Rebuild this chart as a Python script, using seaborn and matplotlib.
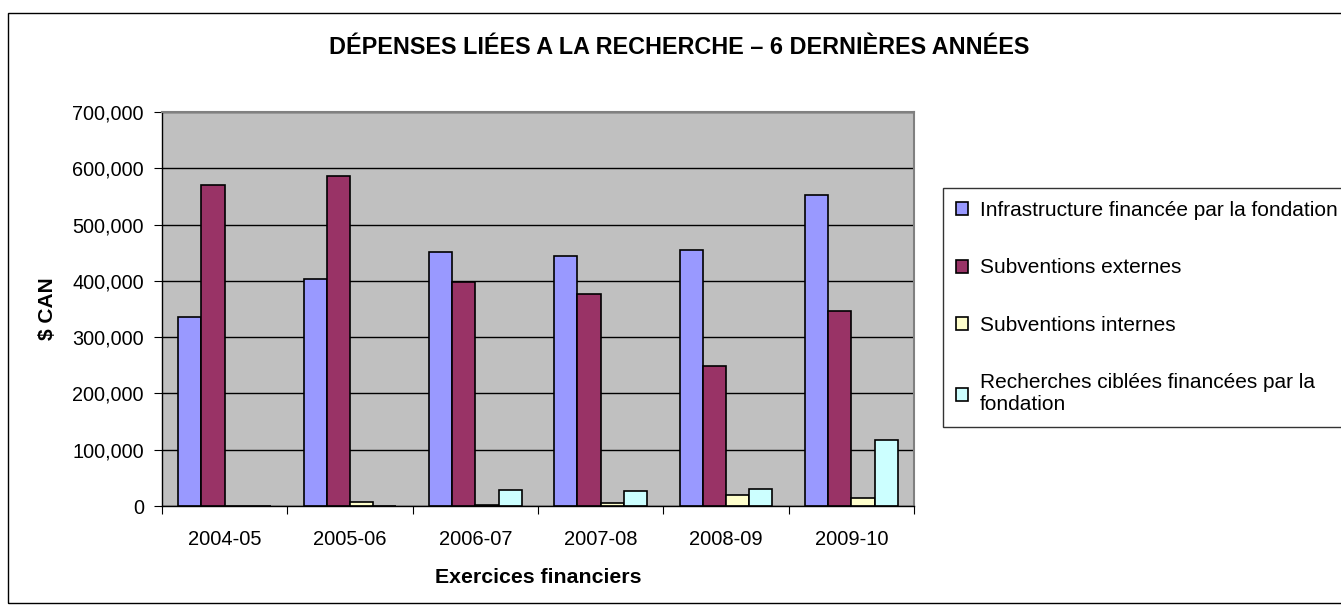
"""Dépenses liées à la recherche - grouped bar chart."""
import textwrap

import matplotlib
matplotlib.use("Agg")
import matplotlib.pyplot as plt
import matplotlib.ticker as mticker
import pandas as pd
import seaborn as sns
from matplotlib.patches import Rectangle

years = ["2004-05", "2005-06", "2006-07", "2007-08", "2008-09", "2009-10"]
series = [
    "Infrastructure financée par la fondation",
    "Subventions externes",
    "Subventions internes",
    "Recherches ciblées financées par la fondation",
]
infrastructure = [336000, 403000, 452000, 444000, 454000, 552000]
subv_externes = [570000, 586000, 398000, 377000, 248000, 346000]
subv_internes = [0, 7000, 2500, 5000, 20000, 14000]
recherches_ciblees = [0, 0, 28000, 26000, 30000, 117000]
colors = ["#9999FF", "#993366", "#FFFFCC", "#CCFFFF"]

rows = []
for name, vals in zip(series, [infrastructure, subv_externes, subv_internes, recherches_ciblees]):
    for yr, v in zip(years, vals):
        rows.append({"year": yr, "value": v, "series": name})
df = pd.DataFrame(rows)

sns.set_style("white")
plt.rcParams["font.family"] = ["Liberation Sans", "DejaVu Sans"]
plt.rcParams.update({"text.color": "black", "axes.labelcolor": "black",
                     "xtick.color": "black", "ytick.color": "black"})

W, H = 1341, 605
fig = plt.figure(figsize=(W / 100, H / 100), dpi=100)
ax = fig.add_axes([162 / W, 1 - 506 / H, (914 - 162) / W, (506 - 112) / H])
ax.set_facecolor("#C0C0C0")

sns.barplot(
    data=df, x="year", y="value", hue="series", hue_order=series,
    palette=colors, width=0.74, edgecolor="black", linewidth=1.2,
    saturation=1, ax=ax,
)

ax.set_ylim(0, 700000)
ax.set_xlim(-0.5, len(years) - 0.5)
ax.yaxis.set_major_locator(mticker.MultipleLocator(100000))
ax.yaxis.set_major_formatter(mticker.FuncFormatter(lambda v, p: f"{int(v):,}"))
ax.grid(axis="y", color="black", linewidth=1)
ax.set_axisbelow(True)

# ticks between categories, labels centred
ax.set_xticks([i - 0.5 for i in range(len(years) + 1)])
ax.set_xticklabels([])
ax.set_xticks(range(len(years)), minor=True)
ax.set_xticklabels(years, minor=True)
ax.tick_params(axis="x", which="major", direction="out", length=6, color="black", bottom=True)
ax.tick_params(axis="x", which="minor", length=0, pad=17, labelsize=14.5)
ax.tick_params(axis="y", direction="out", length=6, color="black", left=True, labelsize=14.3, pad=7)

for side in ["left", "bottom"]:
    ax.spines[side].set_color("black")
    ax.spines[side].set_linewidth(1)
for side in ["top", "right"]:
    ax.spines[side].set_color("#808080")
    ax.spines[side].set_linewidth(1.5)

ax.set_xlabel("Exercices financiers", fontsize=15.3, fontweight="bold", labelpad=14)
ax.set_ylabel("$ CAN", fontsize=15, fontweight="bold", labelpad=11)

handles, labels = ax.get_legend_handles_labels()
ax.get_legend().remove()
labels = [labels[0]] + [textwrap.fill(l, 36) for l in labels[1:]]
fig.legend(
    handles, labels, loc="lower left", bbox_to_anchor=(943 / W, 1 - 427 / H),
    frameon=True, fancybox=False, edgecolor="black", fontsize=15,
    handlelength=0.58, handleheight=0.58, handletextpad=0.6,
    labelspacing=1.85, borderpad=0.6, borderaxespad=0,
)

fig.text(679 / W, 1 - 48 / H, "DÉPENSES LIÉES A LA RECHERCHE – 6 DERNIÈRES ANNÉES",
         ha="center", va="center", fontsize=16.8, fontweight="bold")

fig.patches.append(Rectangle((8 / W, 0.003), 1.0, 1 - 12.5 / H - 0.003,
                             transform=fig.transFigure, fill=False,
                             edgecolor="black", linewidth=1))

fig.savefig("out.png", dpi=100)
